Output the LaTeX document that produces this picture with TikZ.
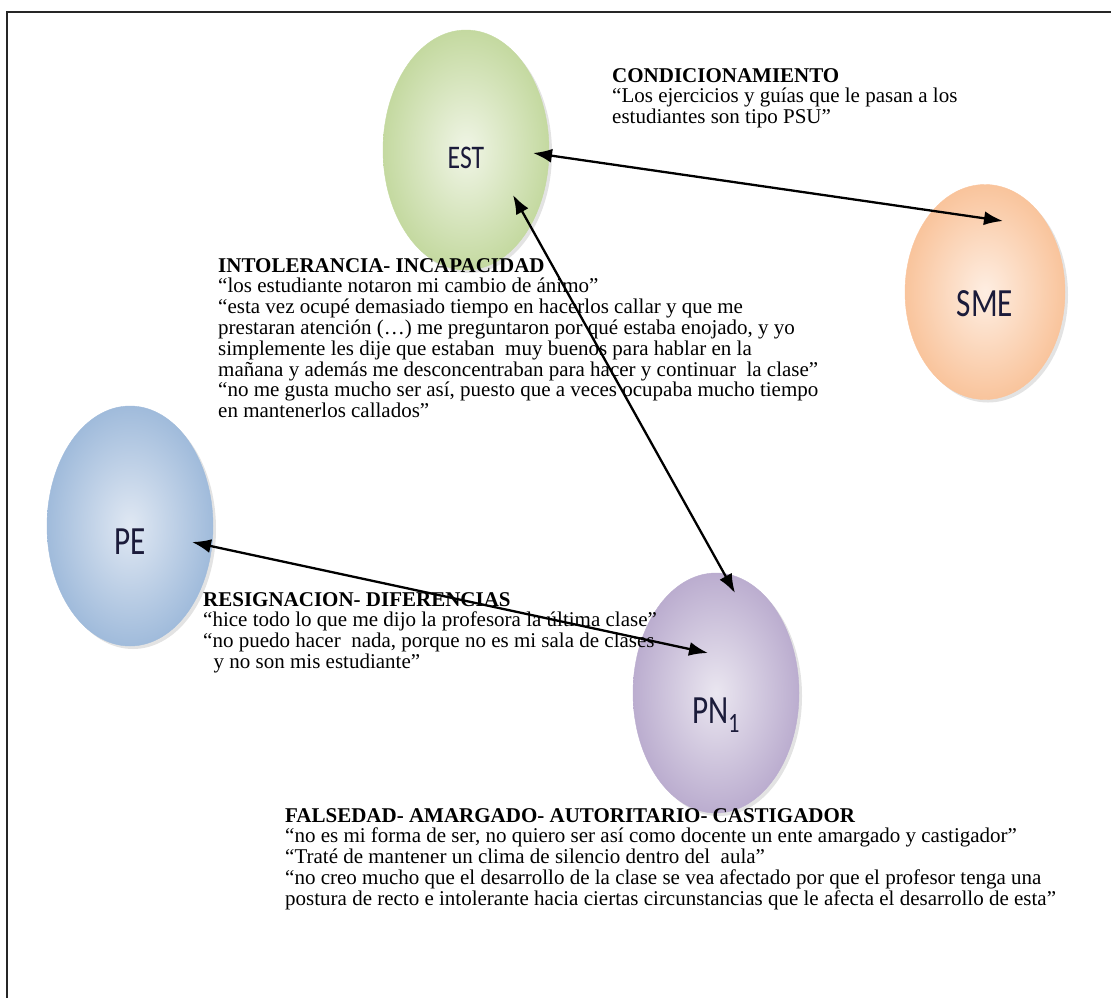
\documentclass[tikz,border=0pt]{standalone}
\usepackage{fontspec}
\setmainfont{Liberation Serif}
\newfontfamily\tagfont{Carlito}
\usetikzlibrary{arrows.meta,calc,shadows,shapes.geometric}

\definecolor{estin}{HTML}{F0F5E6}
\definecolor{estout}{HTML}{C4D9A0}
\definecolor{smein}{HTML}{FEEEE2}
\definecolor{smeout}{HTML}{F9C49C}
\definecolor{pein}{HTML}{E0E8F3}
\definecolor{peout}{HTML}{A0BBDB}
\definecolor{pnin}{HTML}{EAE6F0}
\definecolor{pnout}{HTML}{BBADCF}
\definecolor{tagcol}{HTML}{1B1B3A}

\tikzset{
  bubble/.style={ellipse, minimum width=166pt, minimum height=240pt, inner sep=0pt,
    shading=radial, drop shadow={opacity=0.22, shadow xshift=3pt, shadow yshift=-3pt}},
  tag/.style={font=\tagfont\fontsize{40}{40}\selectfont, text=tagcol, xscale=0.78},
  quote/.style={anchor=north west, align=left, inner sep=0pt,
    font=\fontsize{21}{20.8}\selectfont},
  link/.style={{Latex[length=19pt,width=14pt]}-{Latex[length=19pt,width=14pt]}, line width=2.3pt}
}

\begin{document}
\begin{tikzpicture}[x=1pt,y=-1pt]
\clip (0,0) rectangle (1111,997);
\useasboundingbox (0,0) rectangle (1111,997);
\draw[line width=2pt, black!85] (7,12) rectangle (1120,1010);

% categorias
\node[bubble, inner color=estin, outer color=estout, draw=estout,
  label={[tag, font=\tagfont\fontsize{33}{33}\selectfont, yshift=-8pt]center:EST}] (est) at (466,150) {};
\node[bubble, inner color=smein, outer color=smeout, draw=smeout,
  minimum width=160pt, minimum height=215pt,
  label={[tag, yshift=-12pt]center:SME}] (sme) at (985,292) {};
\node[bubble, inner color=pein, outer color=peout, draw=peout,
  label={[tag, yshift=-16pt]center:PE}] (pe) at (130,526) {};
\node[bubble, inner color=pnin, outer color=pnout, draw=pnout,
  label={[tag, yshift=-22pt]center:PN\textsubscript{1}}] (pn) at (716,693) {};

% textos
\node[quote] (cond) at (612,68) {\textbf{CONDICIONAMIENTO}\\
“Los ejercicios y guías que le pasan a los\\
estudiantes son tipo PSU”};
\node[quote] (intol) at (218,258) {\textbf{INTOLERANCIA- INCAPACIDAD}\\
“los estudiante notaron mi cambio de ánimo”\\
“esta vez ocupé demasiado tiempo en hacerlos callar y que me\\
prestaran atención (…) me preguntaron por qué estaba enojado, y yo\\
simplemente les dije que estaban\ \ muy buenos para hablar en la\\
mañana y además me desconcentraban para hacer y continuar\ \ la clase”\\
“no me gusta mucho ser así, puesto que a veces ocupaba mucho tiempo\\
en mantenerlos callados”};
\node[quote] (resig) at (203,592) {\textbf{RESIGNACION- DIFERENCIAS}\\
“hice todo lo que me dijo la profesora la última clase”\\
“no puedo hacer\ \ nada, porque no es mi sala de clases\\
\ \ y no son mis estudiante”};
\node[quote] (fals) at (285,808) {\textbf{FALSEDAD- AMARGADO- AUTORITARIO- CASTIGADOR}\\
“no es mi forma de ser, no quiero ser así como docente un ente amargado y castigador”\\
“Traté de mantener un clima de silencio dentro del\ \ aula”\\
“no creo mucho que el desarrollo de la clase se vea afectado por que el profesor tenga una\\
postura de recto e intolerante hacia ciertas circunstancias que le afecta el desarrollo de esta”};

% relaciones
\coordinate (est1) at ($(est)+(67,3)$);
\coordinate (sme1) at ($(sme)+(18,-71)$);
\coordinate (est2) at ($(est)+(47,45)$);
\coordinate (pn2) at ($(pn)+(19,-100)$);
\coordinate (pe3) at ($(pe)+(62,16)$);
\coordinate (pn3) at ($(pn)+(-8,-40)$);
\draw[link] (est1) -- (sme1);
\draw[link] (est2) -- (pn2);
\draw[link] (pe3) -- (pn3);
\end{tikzpicture}
\end{document}
